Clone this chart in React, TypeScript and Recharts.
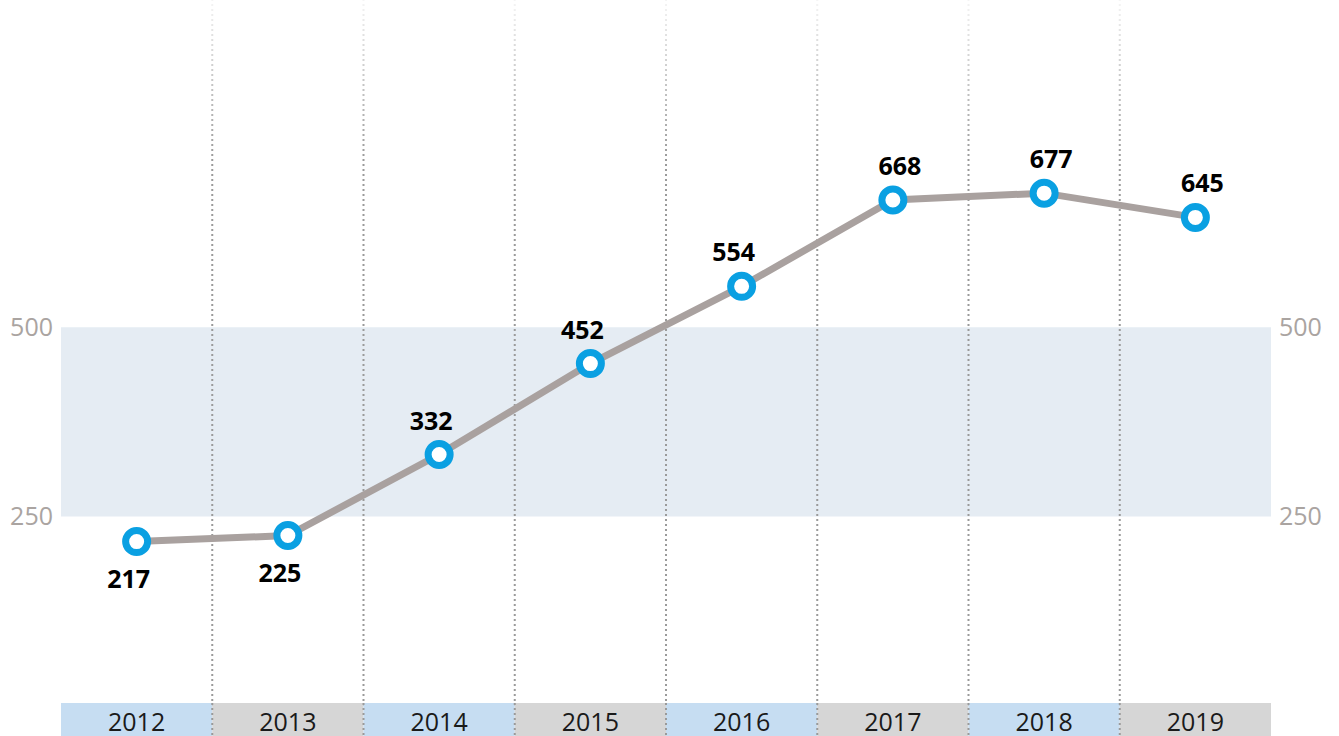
import React from "react";
import {
  ComposedChart,
  Line,
  XAxis,
  YAxis,
  ReferenceArea,
  ReferenceLine,
} from "recharts";

// yearly values, one point per column
const years = ["2012", "2013", "2014", "2015", "2016", "2017", "2018", "2019"];
const values = [217, 225, 332, 452, 554, 668, 677, 645];
const yTicks = [250, 500];
const bandLow = 250;
const bandHigh = 500;
const dividers = [0.5, 1.5, 2.5, 3.5, 4.5, 5.5, 6.5];

const data = years.map((y, i) => ({ i, year: y, value: values[i] }));

const W = 1339;
const H = 736;
const LEFT_AXIS = 61;
const RIGHT_AXIS = 68;
const BW = (W - LEFT_AXIS - RIGHT_AXIS) / years.length;
const Y_DOMAIN: [number, number] = [0, 932];

const FONT = "'Open Sans', sans-serif";
const C = {
  line: "#a9a19f",
  dot: "#0aa0e2",
  band: "#e5ecf3",
  stripBlue: "#c6ddf2",
  stripGrey: "#d6d6d6",
  axis: "#aaa4a1",
  divider: "#9a9a9a",
};

// year strip under the plot: coloured cell, dotted divider, label
function YearTick(props: any) {
  const { x, y, payload, index } = props;
  const i = typeof payload?.value === "number" ? payload.value : index;
  return (
    <g>
      <rect
        x={x - BW / 2}
        y={y - 3}
        width={BW}
        height={34}
        fill={i % 2 === 0 ? C.stripBlue : C.stripGrey}
      />
      {i > 0 && (
        <line
          x1={x - BW / 2}
          x2={x - BW / 2}
          y1={y - 3}
          y2={y + 31}
          stroke={C.divider}
          strokeWidth={2}
          strokeDasharray="2 3"
        />
      )}
      <text
        x={x}
        y={y + 25}
        textAnchor="middle"
        fontFamily={FONT}
        fontSize={25}
        fill="#1a1a1a"
      >
        {years[i]}
      </text>
    </g>
  );
}

function ValueLabel(props: any) {
  const { x, y, value } = props;
  const i = typeof props.index === "number" ? props.index : values.indexOf(value);
  const below = value < bandLow;
  const dx = i < 5 ? -8 : 7;
  return (
    <text
      x={x + dx}
      y={below ? y + 46 : y - 25}
      textAnchor="middle"
      fontFamily={FONT}
      fontWeight={700}
      fontSize={25}
      fill="#000"
    >
      {value}
    </text>
  );
}

export default function App() {
  return (
    <div style={{ position: "absolute", left: 0, top: 0, width: W, height: H, background: "#fff" }}>
      <ComposedChart width={W} height={H} data={data} margin={{ top: 0, right: 0, bottom: 0, left: 0 }}>
        <defs>
          <linearGradient id="fadeUp" gradientUnits="userSpaceOnUse" x1="0" y1="0" x2="0" y2="160">
            <stop offset="0" stopColor={C.divider} stopOpacity={0.1} />
            <stop offset="1" stopColor={C.divider} stopOpacity={1} />
          </linearGradient>
        </defs>
        <XAxis
          dataKey="i"
          type="number"
          domain={[-0.5, years.length - 0.5]}
          ticks={data.map((d) => d.i)}
          interval={0}
          axisLine={false}
          tickLine={false}
          tickSize={0}
          tickMargin={0}
          height={30}
          tick={<YearTick />}
        />
        <YAxis
          yAxisId="l"
          domain={Y_DOMAIN}
          allowDataOverflow
          ticks={yTicks}
          axisLine={false}
          tickLine={false}
          width={LEFT_AXIS}
          tick={{ fontFamily: FONT, fontSize: 25, fill: C.axis }}
        />
        <YAxis
          yAxisId="r"
          orientation="right"
          domain={Y_DOMAIN}
          allowDataOverflow
          ticks={yTicks}
          axisLine={false}
          tickLine={false}
          width={RIGHT_AXIS}
          tick={{ fontFamily: FONT, fontSize: 25, fill: C.axis }}
        />
        <ReferenceArea yAxisId="l" y1={bandLow} y2={bandHigh} fill={C.band} fillOpacity={1} stroke="none" />
        {dividers.map((d) => (
          <ReferenceLine
            key={d}
            yAxisId="l"
            x={d}
            stroke="url(#fadeUp)"
            strokeWidth={2}
            strokeDasharray="2 3"
          />
        ))}
        <Line
          yAxisId="l"
          dataKey="value"
          stroke={C.line}
          strokeWidth={7}
          dot={{ r: 11, fill: "#fff", stroke: C.dot, strokeWidth: 7 }}
          activeDot={false}
          label={<ValueLabel />}
          isAnimationActive={false}
        />
      </ComposedChart>
    </div>
  );
}
